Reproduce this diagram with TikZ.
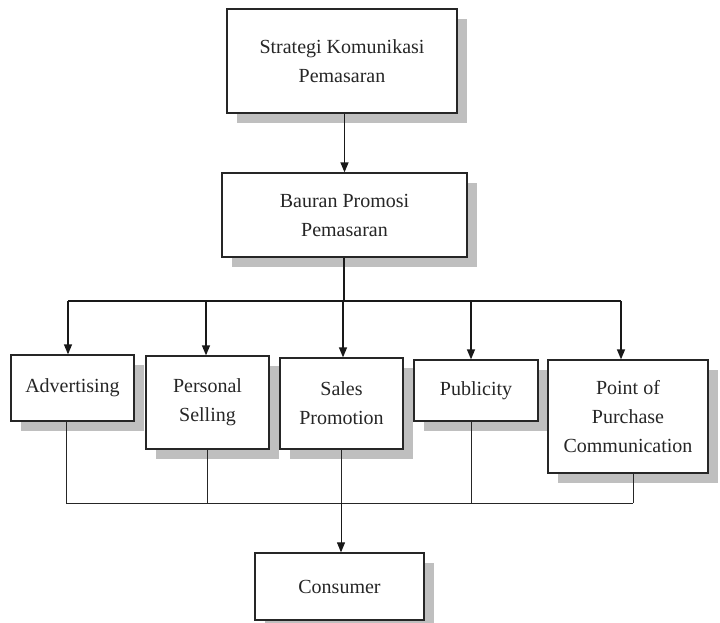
\documentclass[tikz,border=0pt]{standalone}
\usepackage{fontspec}
\setmainfont{Liberation Serif}
\usetikzlibrary{arrows.meta,shadows}
\begin{document}
\begin{tikzpicture}[x=1pt,y=-1pt,
  box/.style={draw=black!85, line width=1.3pt, fill=white, inner sep=0pt, align=center,
    font=\fontsize{20}{29}\selectfont, text=black!85,
    drop shadow={shadow xshift=10pt, shadow yshift=-10pt, fill=black!25, opacity=1}},
  arr/.style={line width=1.3pt, draw=black!90, -{Triangle[length=10pt,width=8pt]}},
  ln/.style={line width=1pt, draw=black!85}]
\useasboundingbox (0,0) rectangle (720,622);
\fill[white] (0,0) rectangle (720,622);
% boxes
\node[box, minimum width=230pt, minimum height=104pt] (S) at (342,61) {Strategi Komunikasi\\Pemasaran};
\node[box, minimum width=245pt, minimum height=84pt] (B) at (344.5,215) {Bauran Promosi\\Pemasaran};
\node[box, minimum width=123pt, minimum height=66pt] (A) at (72.5,388) {Advertising};
\node[box, minimum width=123pt, minimum height=93pt] (P) at (207.5,402.5) {Personal\\Selling};
\node[box, minimum width=123pt, minimum height=91pt] (SP) at (341.5,403.5) {Sales\\Promotion};
\node[box, minimum width=124pt, minimum height=61pt] (Pu) at (476,390.5) {Publicity};
\node[box, minimum width=160pt, minimum height=113pt] (PoP) at (628,416.5) {Point of\\Purchase\\Communication};
\node[box, minimum width=169pt, minimum height=67pt] (C) at (339.5,586.5) {Consumer};
% top connectors
\draw[arr] (B.north |- S.south) -- (B.north);
\coordinate (hb) at (344,301);
\coordinate (tA) at (68,301);
\coordinate (tP) at (206,301);
\coordinate (tS) at (343,301);
\coordinate (tU) at (471,301);
\coordinate (tO) at (621,301);
\draw[line width=1.3pt, draw=black!90] (B.south -| hb) -- (hb);
\draw[line width=1.3pt, draw=black!90] (tA) -- (tO);
\draw[arr] (tA) -- (tA |- A.north);
\draw[arr] (tP) -- (tP |- P.north);
\draw[arr] (tS) -- (tS |- SP.north);
\draw[arr] (tU) -- (tU |- Pu.north);
\draw[arr] (tO) -- (tO |- PoP.north);
% bottom connectors
\coordinate (bA) at (66,503);
\coordinate (bP) at (207,503);
\coordinate (bS) at (341,503);
\coordinate (bU) at (471,503);
\coordinate (bO) at (633,503);
\draw[ln] (bA |- A.south) -- (bA);
\draw[ln] (bP |- P.south) -- (bP);
\draw[ln] (bS |- SP.south) -- (bS);
\draw[ln] (bU |- Pu.south) -- (bU);
\draw[ln] (bO |- PoP.south) -- (bO);
\draw[ln] (bA) -- (bO);
\draw[arr, line width=1pt] (bS) -- (bS |- C.north);
\end{tikzpicture}
\end{document}
